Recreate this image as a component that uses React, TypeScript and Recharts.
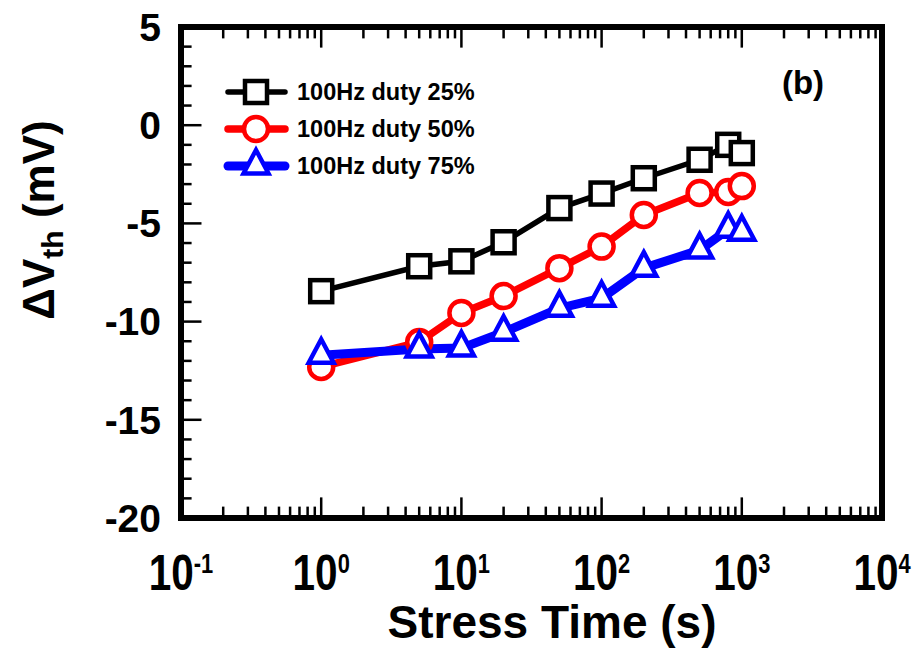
import { Customized, Legend, Line, LineChart, ReferenceArea, ReferenceLine, XAxis, YAxis } from "recharts";

const stressTime = [1, 5, 10, 20, 50, 100, 200, 500, 800, 1000];
const duty25 = [-8.45, -7.18, -6.93, -5.96, -4.22, -3.48, -2.7, -1.76, -1.0, -1.42];
const duty50 = [-12.31, -11.04, -9.56, -8.7, -7.28, -6.18, -4.57, -3.45, -3.4, -3.1];
const duty75 = [-11.71, -11.4, -11.35, -10.54, -9.32, -8.81, -7.28, -6.36, -5.3, -5.45];
const seriesNames = ["100Hz duty 25%", "100Hz duty 50%", "100Hz duty 75%"];
const xTicks = [0.1, 1, 10, 100, 1000, 10000];
const yTicks = [-20, -15, -10, -5, 0, 5];

const data = stressTime.map((t, i) => ({ t, d25: duty25[i], d50: duty50[i], d75: duty75[i] }));

const BOLD = "'Liberation Sans', Arial, sans-serif";

const X_MIN = 0.1;
const X_MAX = 10000;
const Y_MIN = -20;
const Y_MAX = 5;

// inward tick marks, lengths in data units (~20px major, ~11px minor)
const xTickMarks: { v: number; major: boolean }[] = [];
for (let e = -1; e <= 3; e++) {
  for (let m = 1; m <= 9; m++) {
    const v = m * Math.pow(10, e);
    if (v <= X_MIN) continue;
    xTickMarks.push({ v, major: m === 1 });
  }
}
const yTickMarks: { v: number; major: boolean }[] = [];
for (let v = Y_MIN + 1; v < Y_MAX; v++) yTickMarks.push({ v, major: v % 5 === 0 });

const Square = ({ cx, cy, color }: any) => (
  <rect x={cx - 11} y={cy - 11} width={22} height={22} fill="#fff" stroke={color} strokeWidth={4.5} />
);
const Circle = ({ cx, cy, color }: any) => (
  <circle cx={cx} cy={cy} r={12} fill="#fff" stroke={color} strokeWidth={4.5} />
);
const Triangle = ({ cx, cy, color }: any) => (
  <path
    d={`M${cx},${cy - 16} L${cx + 12.5},${cy + 7.5} L${cx - 12.5},${cy + 7.5} Z`}
    fill="#fff"
    stroke={color}
    strokeWidth={4.5}
    strokeLinejoin="miter"
  />
);

// condensed "10^n" labels, like the original
const PowerTick = (props: any) => {
  const { x, y, payload } = props;
  const exp = Math.round(Math.log10(payload.value));
  return (
    <g transform={`translate(${x},${y + 70}) scale(0.81,1)`}>
      <text x={0} y={0} textAnchor="middle" fontFamily={BOLD} fontWeight="bold" fontSize={50} fill="#000">
        <tspan>10</tspan>
        <tspan dy={-17} fontSize={27}>
          {exp}
        </tspan>
      </text>
    </g>
  );
};

const LegendBox = () => {
  const rows = [
    { name: seriesNames[0], color: "#000", w: 5.5, M: Square },
    { name: seriesNames[1], color: "#ff0000", w: 7.5, M: Circle },
    { name: seriesNames[2], color: "#0000ff", w: 9, M: Triangle },
  ];
  return (
    <svg width={290} height={120}>
      {rows.map((r, i) => {
        const cy = 20 + i * 37;
        return (
          <g key={r.name}>
            <line x1={6} x2={63} y1={cy} y2={cy} stroke={r.color} strokeWidth={r.w} strokeLinecap="round" />
            <r.M cx={34} cy={cy} color={r.color} />
            <text x={75} y={cy + 8} fontFamily={BOLD} fontWeight="bold" fontSize={23.5} fill="#000">
              {r.name}
            </text>
          </g>
        );
      })}
    </svg>
  );
};

export default function App() {
  return (
    <div style={{ position: "absolute", left: 0, top: 0, background: "#fff" }}>
      <LineChart width={924} height={651} data={data} margin={{ top: 27, right: 42, left: 0, bottom: 0 }}>
        <XAxis
          dataKey="t"
          type="number"
          scale="log"
          domain={[X_MIN, X_MAX]}
          ticks={xTicks}
          allowDataOverflow
          axisLine={false}
          tickLine={false}
          tickSize={0}
          height={133}
          tick={<PowerTick />}
          interval={0}
        />
        <YAxis
          type="number"
          domain={[Y_MIN, Y_MAX]}
          ticks={yTicks}
          interval={0}
          allowDataOverflow
          axisLine={false}
          tickLine={false}
          tickSize={0}
          tickMargin={20}
          width={181}
          tick={{ fontSize: 39, fontWeight: "bold", fill: "#000", fontFamily: BOLD }}
        />
        {xTickMarks.map((m) => (
          <ReferenceLine
            key={"xb" + m.v}
            segment={[
              { x: m.v, y: Y_MIN },
              { x: m.v, y: Y_MIN + (m.major ? 1.05 : 0.58) },
            ]}
            stroke="#000"
            strokeWidth={2.5}
          />
        ))}
        {xTickMarks.map((m) => (
          <ReferenceLine
            key={"xt" + m.v}
            segment={[
              { x: m.v, y: Y_MAX },
              { x: m.v, y: Y_MAX - (m.major ? 1.05 : 0.58) },
            ]}
            stroke="#000"
            strokeWidth={2.5}
          />
        ))}
        {yTickMarks.map((m) => (
          <ReferenceLine
            key={"yl" + m.v}
            segment={[
              { x: X_MIN, y: m.v },
              { x: X_MIN * (m.major ? 1.4 : 1.19), y: m.v },
            ]}
            stroke="#000"
            strokeWidth={2.5}
          />
        ))}
        <ReferenceArea x1={X_MIN} x2={X_MAX} y1={Y_MIN} y2={Y_MAX} fill="none" fillOpacity={0} stroke="#000" strokeWidth={6} />
        <Line
          dataKey="d25"
          name={seriesNames[0]}
          stroke="#000"
          strokeWidth={5.5}
          isAnimationActive={false}
          dot={(p: any) => <Square key={p.index} cx={p.cx} cy={p.cy} color="#000" />}
        />
        <Line
          dataKey="d50"
          name={seriesNames[1]}
          stroke="#ff0000"
          strokeWidth={7.5}
          isAnimationActive={false}
          dot={(p: any) => <Circle key={p.index} cx={p.cx} cy={p.cy} color="#ff0000" />}
        />
        <Line
          dataKey="d75"
          name={seriesNames[2]}
          stroke="#0000ff"
          strokeWidth={9}
          isAnimationActive={false}
          dot={(p: any) => <Triangle key={p.index} cx={p.cx} cy={p.cy} color="#0000ff" />}
        />
        <Legend
          layout="horizontal"
          verticalAlign="middle"
          align="center"
          wrapperStyle={{ position: "absolute", left: 222, top: 72, width: 290, height: 120 }}
          content={() => <LegendBox />}
        />
        <Customized
          component={() => (
            <g>
              <text x={803} y={94} textAnchor="middle" fontFamily={BOLD} fontWeight="bold" fontSize={33} fill="#000">
                (b)
              </text>
              <text
                x={54}
                y={220}
                transform="rotate(-90, 54, 220)"
                textAnchor="middle"
                fontFamily={BOLD}
                fontWeight="bold"
                fontSize={44}
                fill="#000"
              >
                ΔV
                <tspan dy={9} fontSize={30}>
                  th
                </tspan>
                <tspan dy={-9}> (mV)</tspan>
              </text>
              <text x={552} y={638} textAnchor="middle" fontFamily={BOLD} fontWeight="bold" fontSize={46} fill="#000">
                Stress Time (s)
              </text>
            </g>
          )}
        />
      </LineChart>
    </div>
  );
}
